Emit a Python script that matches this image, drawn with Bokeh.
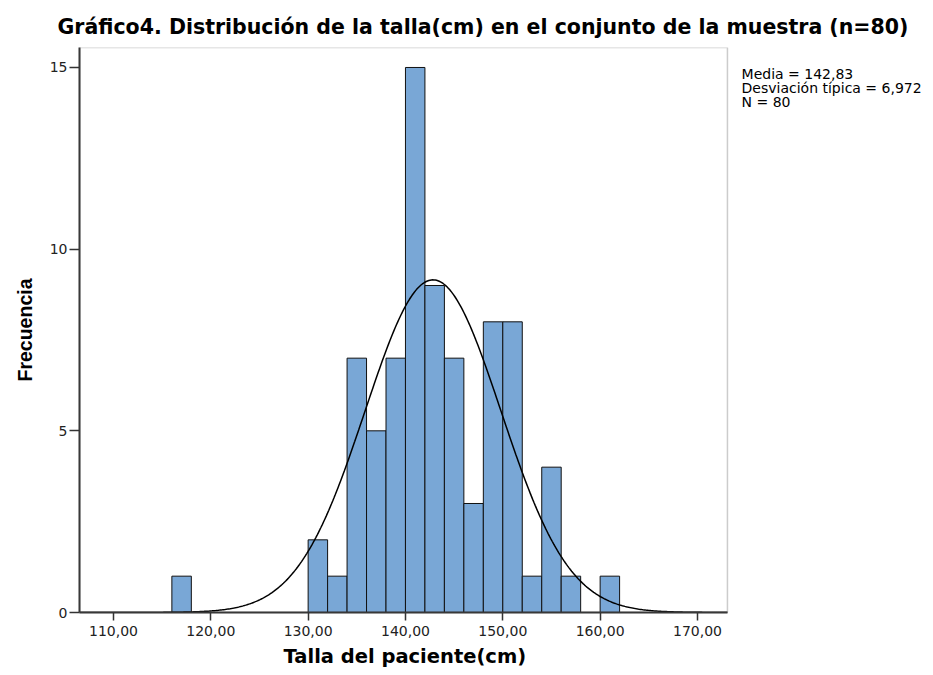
import numpy as np
from bokeh.plotting import figure
from bokeh.models import FixedTicker, Title, Range1d, Label, BoxAnnotation
from bokeh.embed import file_html
from bokeh.resources import INLINE

# Data
bin_left = [116, 130, 132, 134, 136, 138, 140, 142, 144, 146, 148, 150, 152, 154, 156, 160]
counts = [1, 2, 1, 7, 5, 7, 15, 9, 7, 3, 8, 8, 1, 4, 1, 1]
bin_width = 2
mean_val = 142.83
sd_val = 6.972
n_val = 80
x_ticks = [110, 120, 130, 140, 150, 160, 170]
y_ticks = [0, 5, 10, 15]
stats_lines = ["Media = 142,83", "Desviación típica = 6,972", "N = 80"]

FONT = "DejaVu Sans"
X_MIN, X_MAX = 106.51, 173.08      # visible plot box
X_END = 194.25                     # canvas extends right for the stats text
Y_MAX = 15.55

p = figure(width=933, height=675, output_backend="svg", toolbar_location=None,
           x_range=Range1d(X_MIN, X_END), y_range=Range1d(0, Y_MAX),
           min_border_left=79, min_border_right=0, min_border_top=47, min_border_bottom=63)
p.title = None
t = Title(text="Gráfico4. Distribución de la talla(cm) en el conjunto de la muestra (n=80)",
          align="left", offset=-22, standoff=17, text_font=FONT, text_font_size="20.5px",
          text_font_style="bold", text_color="#000000")
p.add_layout(t, "above")

p.xgrid.visible = False
p.ygrid.visible = False
p.background_fill_color = "white"
p.border_fill_color = "white"
p.outline_line_color = None

# plot box
p.add_layout(BoxAnnotation(right=X_MAX, fill_alpha=0, line_color="#555555", line_width=1.5))

left = np.array(bin_left, dtype=float)
p.quad(left=left, right=left + bin_width, bottom=0, top=counts,
       fill_color="#79a7d6", line_color="#111111", line_width=1)

xs = np.linspace(X_MIN, X_MAX, 500)
ys = n_val * bin_width * np.exp(-0.5 * ((xs - mean_val) / sd_val) ** 2) / (sd_val * np.sqrt(2 * np.pi))
p.line(xs, ys, line_color="black", line_width=1.5)

# axes
p.xaxis.ticker = FixedTicker(ticks=x_ticks)
p.xaxis.major_label_overrides = {v: f"{v},00" for v in x_ticks}
p.xaxis.bounds = (X_MIN, X_MAX)
p.yaxis.ticker = FixedTicker(ticks=y_ticks)
for ax in (p.xaxis, p.yaxis):
    ax.axis_line_color = "#333333"
    ax.axis_line_width = 2
    ax.major_tick_line_color = "#333333"
    ax.major_tick_line_width = 1.5
    ax.minor_tick_line_color = None
    ax.major_tick_in = 0
    ax.major_label_text_font = FONT
    ax.major_label_text_font_size = "14px"
    ax.major_label_text_color = "#222222"
p.yaxis.axis_label_text_font_style = "bold"
p.yaxis.axis_label_text_color = "#000000"
p.yaxis.axis_label_text_font = "Liberation Sans"
p.yaxis.axis_label_text_font_size = "19.5px"
p.xaxis.major_tick_out = 8
p.yaxis.major_tick_out = 10
p.xaxis.major_label_standoff = 5
p.yaxis.major_label_standoff = 2
p.yaxis.axis_label = "Frecuencia"
p.yaxis.axis_label_standoff = 11

# x-axis title, centred under the plot box
xt = Title(text="Talla del paciente(cm)", align="left", offset=204, standoff=9,
           text_font=FONT, text_font_size="19.5px", text_font_style="bold",
           text_color="#000000")
p.add_layout(xt, "below")

# stats text
label_x = 174.53
label_y = [14.81, 14.43, 14.05]
for s, yy in zip(stats_lines, label_y):
    p.add_layout(Label(x=label_x, y=yy, text=s, text_font=FONT, text_font_size="14px",
                       text_baseline="alphabetic", text_align="left", text_color="#000000"))

open("out.html", "w").write(file_html(p, INLINE))
